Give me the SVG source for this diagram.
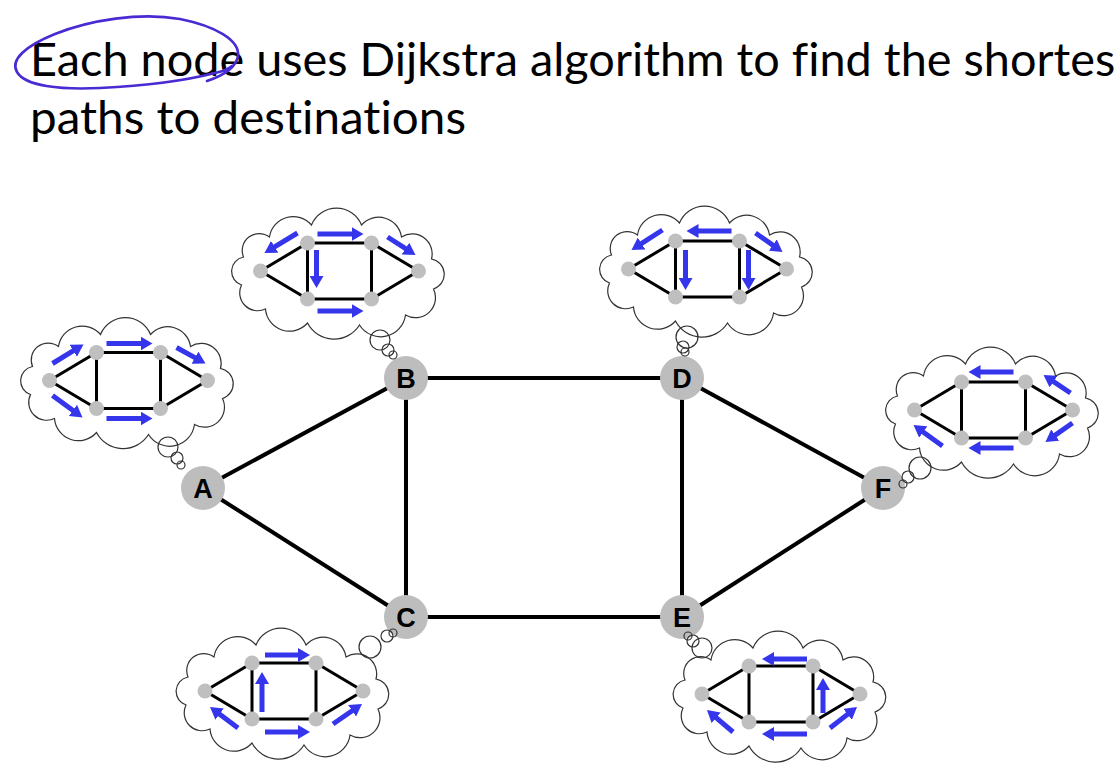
<svg xmlns="http://www.w3.org/2000/svg" xmlns:xlink="http://www.w3.org/1999/xlink" width="1116" height="784" viewBox="0 0 1116 784">
<style>
.title{font-family:Lato,"Open Sans","Liberation Sans",sans-serif;font-size:47px;fill:#000;font-variant-ligatures:none;font-feature-settings:"liga" 0}
.edge{stroke:#000;stroke-width:4;fill:none}
.node{fill:#bdbdbd}
.lbl{font-family:"Liberation Sans",Arial,sans-serif;font-weight:bold;font-size:27px;fill:#000;text-anchor:middle}
.cloud{fill:#fff;stroke:#333;stroke-width:1.2}
.bub{fill:none;stroke:#333;stroke-width:1.2}
.medge{stroke:#000;stroke-width:3;fill:none}
.mnode{fill:#bfbfbf}
.arr{stroke:#3535ec;stroke-width:5;fill:none;marker-end:url(#ah)}
.ink{fill:none;stroke:#4a2bd3;stroke-width:2.6;stroke-linecap:round;stroke-linejoin:round}
</style>
<defs>
<marker id="ah" markerUnits="userSpaceOnUse" markerWidth="14" markerHeight="14" refX="4" refY="7" orient="auto"><path d="M0,0 L12,7 L0,14 z" fill="#3535ec"/></marker>
<path id="cloudShape" class="cloud" d="M-98,14 A14.5,14.5 0 0 1 -96,-14 A17,17 0 0 1 -70,-34 A24,24 0 0 1 -28,-46 A27,27 0 0 1 22,-46 A23,23 0 0 1 62,-34 A20,20 0 0 1 92,-12 A15.5,15.5 0 0 1 94,18 A20,20 0 0 1 66,44 A25,25 0 0 1 20,54 A30,30 0 0 1 -32,52 A24,24 0 0 1 -74,38 A18,18 0 0 1 -98,14 Z"/>
<g id="mini">
<path class="medge" d="M-79,0 L-32,-28 L32,-28 L79,0 L32,28 L-32,28 Z M-32,-28 L-32,28 M32,-28 L32,28"/>
<circle class="mnode" cx="-79" cy="0" r="7.5"/>
<circle class="mnode" cx="-32" cy="-28" r="7.5"/>
<circle class="mnode" cx="32" cy="-28" r="7.5"/>
<circle class="mnode" cx="79" cy="0" r="7.5"/>
<circle class="mnode" cx="-32" cy="28" r="7.5"/>
<circle class="mnode" cx="32" cy="28" r="7.5"/>
</g>
</defs>
<rect width="1116" height="784" fill="#fff"/>

<g id="title">
<text class="title" x="30" y="76" textLength="1102" lengthAdjust="spacingAndGlyphs">Each node uses Dijkstra algorithm to find the shortest</text>
<text class="title" x="30" y="134" textLength="436" lengthAdjust="spacingAndGlyphs">paths to destinations</text>
<path class="ink" d="M207,81 C222,76 236,68 238,56 C240,40 215,26 180,19 C140,12 90,20 55,34 C25,46 10,60 17,72 C25,86 60,90 100,88 C140,86 180,82 215,73 Q228,70 232,66"/>
</g>

<g id="connectors">
<line class="edge" x1="203" y1="488" x2="406" y2="378"/>
<line class="edge" x1="203" y1="488" x2="406" y2="617"/>
<line class="edge" x1="406" y1="378" x2="406" y2="617"/>
<line class="edge" x1="406" y1="378" x2="682" y2="378"/>
<line class="edge" x1="406" y1="617" x2="682" y2="617"/>
<line class="edge" x1="682" y1="378" x2="682" y2="617"/>
<line class="edge" x1="682" y1="378" x2="883" y2="488"/>
<line class="edge" x1="682" y1="617" x2="883" y2="488"/>
</g>

<g id="node-A"><circle class="node" cx="203" cy="488" r="22"/><text class="lbl" x="203" y="498">A</text></g>
<g id="node-B"><circle class="node" cx="406" cy="378" r="22"/><text class="lbl" x="406" y="388">B</text></g>
<g id="node-C"><circle class="node" cx="406" cy="617" r="22"/><text class="lbl" x="406" y="627">C</text></g>
<g id="node-D"><circle class="node" cx="682" cy="378" r="22"/><text class="lbl" x="682" y="388">D</text></g>
<g id="node-E"><circle class="node" cx="682" cy="617" r="22"/><text class="lbl" x="682" y="627">E</text></g>
<g id="node-F"><circle class="node" cx="883" cy="488" r="22"/><text class="lbl" x="883" y="498">F</text></g>

<g id="cloud-A">
<g transform="translate(128.5,380.5)">
<use xlink:href="#cloudShape"/><use xlink:href="#mini"/>
<path class="arr" d="M-76,-17 L-51.8,-31.8"/>
<path class="arr" d="M-22,-37 L16,-37"/>
<path class="arr" d="M48,-33 L70,-20.9"/>
<path class="arr" d="M-76,15 L-52.4,32.3"/>
<path class="arr" d="M-22,38 L16,38"/>
</g>
<circle class="bub" cx="168" cy="447" r="10"/><circle class="bub" cx="177" cy="458" r="6"/><circle class="bub" cx="181" cy="465" r="4"/>
</g>

<g id="cloud-B">
<g transform="translate(339.5,271)">
<use xlink:href="#cloudShape"/><use xlink:href="#mini"/>
<path class="arr" d="M-42,-38 L-68.2,-22.1"/>
<path class="arr" d="M-22,-37 L16,-37"/>
<path class="arr" d="M48,-34 L69.3,-20.3"/>
<path class="arr" d="M-23,-21 L-23,9"/>
<path class="arr" d="M-22,40 L16,40"/>
</g>
<circle class="bub" cx="380" cy="340" r="10"/><circle class="bub" cx="388" cy="350" r="6"/><circle class="bub" cx="393" cy="355" r="4"/>
</g>

<g id="cloud-D">
<g transform="translate(707.5,269)">
<use xlink:href="#cloudShape"/><use xlink:href="#mini"/>
<path class="arr" d="M-45,-39 L-69.3,-23.3"/>
<path class="arr" d="M24,-38 L-13,-38"/>
<path class="arr" d="M48,-36 L68.5,-21.6"/>
<path class="arr" d="M-22,-19 L-22,13"/>
<path class="arr" d="M41,-19 L41,13"/>
</g>
<circle class="bub" cx="687" cy="337" r="11"/><circle class="bub" cx="683" cy="347" r="6"/><circle class="bub" cx="685" cy="352" r="4"/>
</g>

<g id="cloud-F">
<g transform="translate(993.5,410)">
<use xlink:href="#cloudShape"/><use xlink:href="#mini"/>
<path class="arr" d="M20,-38 L-17,-38"/>
<path class="arr" d="M77,-17 L56.7,-30.6"/>
<path class="arr" d="M-51,36 L-73.5,19.7"/>
<path class="arr" d="M20,38 L-17,38"/>
<path class="arr" d="M79,13 L58.5,27.4"/>
</g>
<circle class="bub" cx="920" cy="468" r="11"/><circle class="bub" cx="908" cy="477" r="6"/><circle class="bub" cx="903" cy="484" r="4"/>
</g>

<g id="cloud-C">
<g transform="translate(284,691)">
<use xlink:href="#cloudShape"/><use xlink:href="#mini"/>
<path class="arr" d="M-19,-36 L18,-36"/>
<path class="arr" d="M-22,21 L-22,-11"/>
<path class="arr" d="M-46,37 L-67.6,20.8"/>
<path class="arr" d="M-19,41 L18,41"/>
<path class="arr" d="M49,33 L71.4,17.5"/>
</g>
<circle class="bub" cx="370" cy="647" r="11"/><circle class="bub" cx="387" cy="636" r="6"/><circle class="bub" cx="393" cy="633" r="4"/>
</g>

<g id="cloud-E">
<g transform="translate(781,694)">
<use xlink:href="#cloudShape"/><use xlink:href="#mini"/>
<path class="arr" d="M26,-35 L-11,-35"/>
<path class="arr" d="M42,19 L42,-8"/>
<path class="arr" d="M-48,38 L-67.9,21.2"/>
<path class="arr" d="M26,40 L-11,40"/>
<path class="arr" d="M49,34 L69.7,17.9"/>
</g>
<circle class="bub" cx="702" cy="648" r="10"/><circle class="bub" cx="693" cy="641" r="6"/><circle class="bub" cx="688" cy="636" r="4"/>
</g>
</svg>
